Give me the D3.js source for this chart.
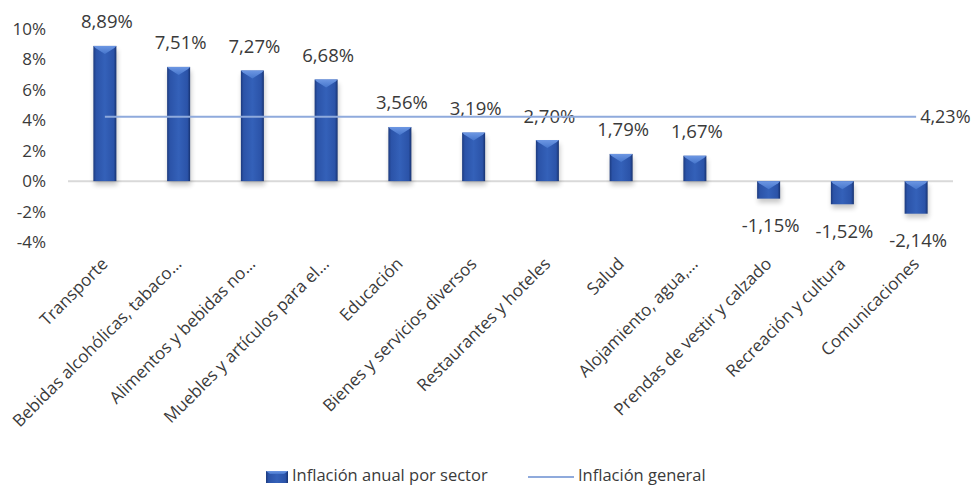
<!DOCTYPE html>
<html>
<head>
<meta charset="utf-8">
<script src="https://cdn.jsdelivr.net/npm/d3@7/dist/d3.min.js"></script>
<style>
  html, body { margin: 0; padding: 0; background: #fff; }
  svg text { font-family: "Open Sans", "Segoe UI", sans-serif; fill: #3a3a3a; }
</style>
</head>
<body>
<svg id="chart" width="976" height="486"></svg>
<script>
// Sector annual inflation (%)
const categories = [
  "Transporte",
  "Bebidas alcohólicas, tabaco…",
  "Alimentos y bebidas no…",
  "Muebles y artículos para el…",
  "Educación",
  "Bienes y servicios diversos",
  "Restaurantes y hoteles",
  "Salud",
  "Alojamiento, agua,…",
  "Prendas de vestir y calzado",
  "Recreación y cultura",
  "Comunicaciones"
];
const sectorValues = [8.89, 7.51, 7.27, 6.68, 3.56, 3.19, 2.70, 1.79, 1.67, -1.15, -1.52, -2.14];
const generalInflation = 4.23;
const yTicks = [-4, -2, 0, 2, 4, 6, 8, 10];
const seriesNames = ["Inflación anual por sector", "Inflación general"];

const fmt = v => v.toFixed(2).replace(".", ",") + "%";

const svg = d3.select("#chart");
const plot = { left: 68, right: 953, top: 29, bottom: 242 };

const x = d3.scaleBand().domain(categories).range([plot.left, plot.right]).paddingInner(0.688).paddingOuter(0.344);
const y = d3.scaleLinear().domain([-4, 10]).range([plot.bottom, plot.top]);

const defs = svg.append("defs");
const grad = defs.append("linearGradient").attr("id", "barGrad").attr("x1", "0").attr("x2", "1").attr("y1", "0").attr("y2", "0");
grad.append("stop").attr("offset", "0%").attr("stop-color", "#1c3a7e");
grad.append("stop").attr("offset", "12%").attr("stop-color", "#2b53a8");
grad.append("stop").attr("offset", "50%").attr("stop-color", "#3461b9");
grad.append("stop").attr("offset", "88%").attr("stop-color", "#2b53a8");
grad.append("stop").attr("offset", "100%").attr("stop-color", "#173270");
const bevel = defs.append("linearGradient").attr("id", "bevelGrad").attr("x1", "0").attr("x2", "0").attr("y1", "0").attr("y2", "1");
bevel.append("stop").attr("offset", "0%").attr("stop-color", "#6d97e3");
bevel.append("stop").attr("offset", "100%").attr("stop-color", "#4676cc");
const shadow = defs.append("filter").attr("id", "shadow").attr("x", "-50%").attr("y", "-50%").attr("width", "200%").attr("height", "200%");
shadow.append("feGaussianBlur").attr("stdDeviation", 2.5);

// Y axis labels
svg.append("g").selectAll("text").data(yTicks).join("text")
  .attr("x", 46).attr("y", d => y(d)).attr("dy", "0.35em")
  .attr("text-anchor", "end").attr("font-size", 17)
  .text(d => d + "%");

// Zero line
svg.append("line")
  .attr("x1", plot.left).attr("x2", plot.right)
  .attr("y1", y(0)).attr("y2", y(0))
  .attr("stroke", "#d9d9d9").attr("stroke-width", 2);

const bw = x.bandwidth();
const bars = svg.append("g").selectAll("g").data(categories).join("g");

// soft shadow beneath each bar
bars.append("rect")
  .attr("x", d => x(d) + 1)
  .attr("y", (d, i) => Math.min(y(sectorValues[i]), y(0)) + 4)
  .attr("width", bw)
  .attr("height", (d, i) => Math.abs(y(sectorValues[i]) - y(0)))
  .attr("fill", "#000").attr("opacity", 0.22)
  .attr("filter", "url(#shadow)");

bars.append("rect")
  .attr("x", d => x(d))
  .attr("y", (d, i) => Math.min(y(sectorValues[i]), y(0)))
  .attr("width", bw)
  .attr("height", (d, i) => Math.abs(y(sectorValues[i]) - y(0)))
  .attr("fill", "url(#barGrad)");

// bevel on the upper edge of each bar
bars.append("path")
  .attr("d", (d, i) => {
    const top = Math.min(y(sectorValues[i]), y(0));
    const h = Math.abs(y(sectorValues[i]) - y(0));
    const b = Math.min(8, h / 2);
    const x0 = x(d), x1 = x(d) + bw, xm = x(d) + bw / 2;
    return `M${x0},${top}L${x1},${top}L${x1 - 2},${top + 2}L${xm},${top + b}L${x0 + 2},${top + 2}Z`;
  })
  .attr("fill", "url(#bevelGrad)");

// Value labels
bars.append("text")
  .attr("x", d => x(d) + bw / 2 + 2)
  .attr("y", (d, i) => sectorValues[i] >= 0 ? y(sectorValues[i]) - 24 : y(sectorValues[i]) + 27)
  .attr("dy", "0.35em")
  .attr("text-anchor", "middle").attr("font-size", 18.5)
  .text((d, i) => fmt(sectorValues[i]));

// General inflation line
const first = categories[0], last = categories[categories.length - 1];
svg.append("line")
  .attr("x1", x(first) + bw / 2).attr("x2", x(last) + bw / 2)
  .attr("y1", y(generalInflation)).attr("y2", y(generalInflation))
  .attr("stroke", "#8faadc").attr("stroke-width", 2);
svg.append("text")
  .attr("x", x(last) + bw / 2 + 4).attr("y", y(generalInflation))
  .attr("dy", "0.35em").attr("font-size", 18)
  .text(fmt(generalInflation));

// Category labels
svg.append("g").selectAll("text").data(categories).join("text")
  .attr("transform", d => `translate(${x(d) + bw / 2 + 4},${265}) rotate(-45)`)
  .attr("text-anchor", "end").attr("font-size", 17)
  .text(d => d);

// Legend
const lg = svg.append("g");
lg.append("rect").attr("x", 266).attr("y", 471).attr("width", 22).attr("height", 12).attr("fill", "url(#barGrad)");
lg.append("path").attr("d", "M266,471L288,471L284,474L270,474Z").attr("fill", "url(#bevelGrad)");
lg.append("text").attr("x", 292).attr("y", 475).attr("dy", "0.35em").attr("font-size", 16.5).text(seriesNames[0]);
lg.append("line").attr("x1", 528).attr("x2", 574).attr("y1", 477).attr("y2", 477).attr("stroke", "#8faadc").attr("stroke-width", 2);
lg.append("text").attr("x", 578).attr("y", 475).attr("dy", "0.35em").attr("font-size", 16.5).text(seriesNames[1]);
</script>
</body>
</html>
